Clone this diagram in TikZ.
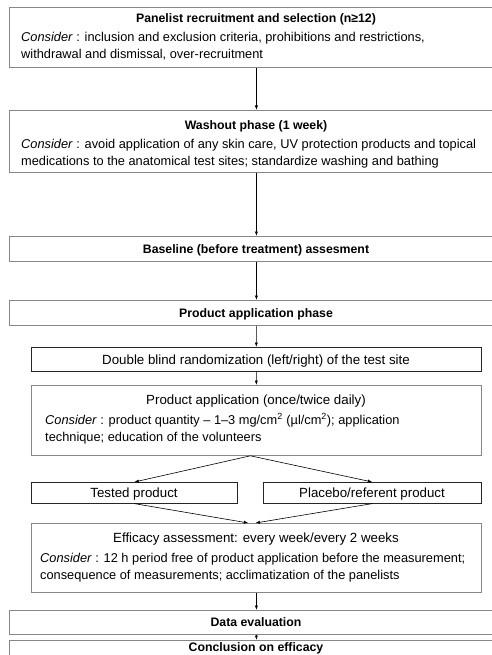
\documentclass[tikz,border=0pt]{standalone}
\usepackage{fontspec}
\setmainfont{Liberation Sans}
\usetikzlibrary{arrows.meta,calc,positioning}
\definecolor{boxgray}{RGB}{135,135,135}

\begin{document}
\begin{tikzpicture}[x=1pt,y=-1pt,
    phase/.style={draw=boxgray,line width=.8pt,inner sep=0pt,anchor=north west},
    subbox/.style={draw=black!85,line width=.6pt,inner sep=0pt,anchor=north west},
    ttl/.style={font=\fontsize{12.3}{17}\selectfont\bfseries,inner sep=0pt,anchor=base},
    body/.style={font=\fontsize{12.8}{17}\selectfont,align=left,anchor=base west,inner sep=0pt},
    plain/.style={font=\fontsize{13.3}{17}\selectfont,inner sep=0pt,anchor=base},
    flow/.style={-{Latex[length=4.5pt,width=3.2pt]},line width=.6pt}]
  \useasboundingbox (0,0) rectangle (491,655);

  % main column
  \node[phase,minimum width=494pt,minimum height=60pt] (recruit) at (9,7) {};
  \node[ttl] (recruitT) at (256,22.5) {Panelist recruitment and selection (n≥12)};
  \node[body] (recruitB) at (21,59) {\textit{Consider} : inclusion and exclusion criteria, prohibitions and restrictions,\\
    withdrawal and dismissal, over-recruitment};

  \node[phase,minimum width=494pt,minimum height=62pt] (washout) at (9,110) {};
  \node[ttl] (washoutT) at (256,129.5) {Washout phase (1 week)};
  \node[body] (washoutB) at (21,165) {\textit{Consider} : avoid application of any skin care, UV protection products and topical\\
    medications to the anatomical test sites; standardize washing and bathing};

  \node[phase,minimum width=494pt,minimum height=25pt] (baseline) at (9,236) {};
  \node[ttl] (baselineT) at (256,253) {Baseline (before treatment) assesment};

  \node[phase,minimum width=494pt,minimum height=25pt] (phase) at (9,300) {};
  \node[ttl] (phaseT) at (256,317) {Product application phase};

  % product application block
  \node[subbox,minimum width=450pt,minimum height=24pt] (random) at (31,347) {};
  \node[plain] (randomT) at (256,364) {Double blind randomization (left/right) of the test site};

  \node[phase,minimum width=450pt,minimum height=70pt] (apply) at (31,385) {};
  \node[plain] (applyT) at (256,404) {Product application (once/twice daily)};
  \node[body] (applyB) at (45,441) {\textit{Consider} : product quantity – 1–3 mg/cm\textsuperscript{2} (µl/cm\textsuperscript{2}); application\\
    technique; education of the volunteers};

  \node[subbox,minimum width=206pt,minimum height=21pt] (tested) at (31,482) {};
  \node[plain] (testedT) at (134,497) {Tested product};
  \node[subbox,minimum width=218pt,minimum height=21pt] (placebo) at (263,482) {};
  \node[plain] (placeboT) at (372,497) {Placebo/referent product};

  \node[phase,minimum width=450pt,minimum height=69pt] (efficacy) at (31,523) {};
  \node[plain] (efficacyT) at (256,542) {Efficacy assessment: every week/every 2 weeks};
  \node[body] (efficacyB) at (40,579) {\textit{Consider} : 12 h period free of product application before the measurement;\\
    consequence of measurements; acclimatization of the panelists};

  \node[phase,minimum width=494pt,minimum height=24pt] (evaluation) at (9,610) {};
  \node[ttl] (evaluationT) at (256,626.5) {Data evaluation};

  \node[phase,minimum width=494pt,minimum height=30pt] (conclusion) at (9,640) {};
  \node[ttl] (conclusionT) at (256,651.5) {Conclusion on efficacy};

  % connectors
  \coordinate (applyS) at ($(apply.south)+(-6,0)$);
  \coordinate (effL) at ($(efficacy.north)+(-8,0)$);
  \coordinate (effR) at ($(efficacy.north)+(-1,0)$);
  \draw[flow] (recruit) -- (washout);
  \draw[flow] (washout) -- (baseline);
  \draw[flow] (baseline) -- (phase);
  \draw[flow] (phase) -- (random);
  \draw[flow] (random) -- (apply);
  \draw[flow] (applyS) -- (tested.north);
  \draw[flow] (applyS) -- (placebo.north);
  \draw[flow] (tested.south) -- (effL);
  \draw[flow] (placebo.south) -- (effR);
  \draw[flow] (efficacy) -- (evaluation);
  \draw[flow] (evaluation) -- (conclusion);
\end{tikzpicture}
\end{document}
